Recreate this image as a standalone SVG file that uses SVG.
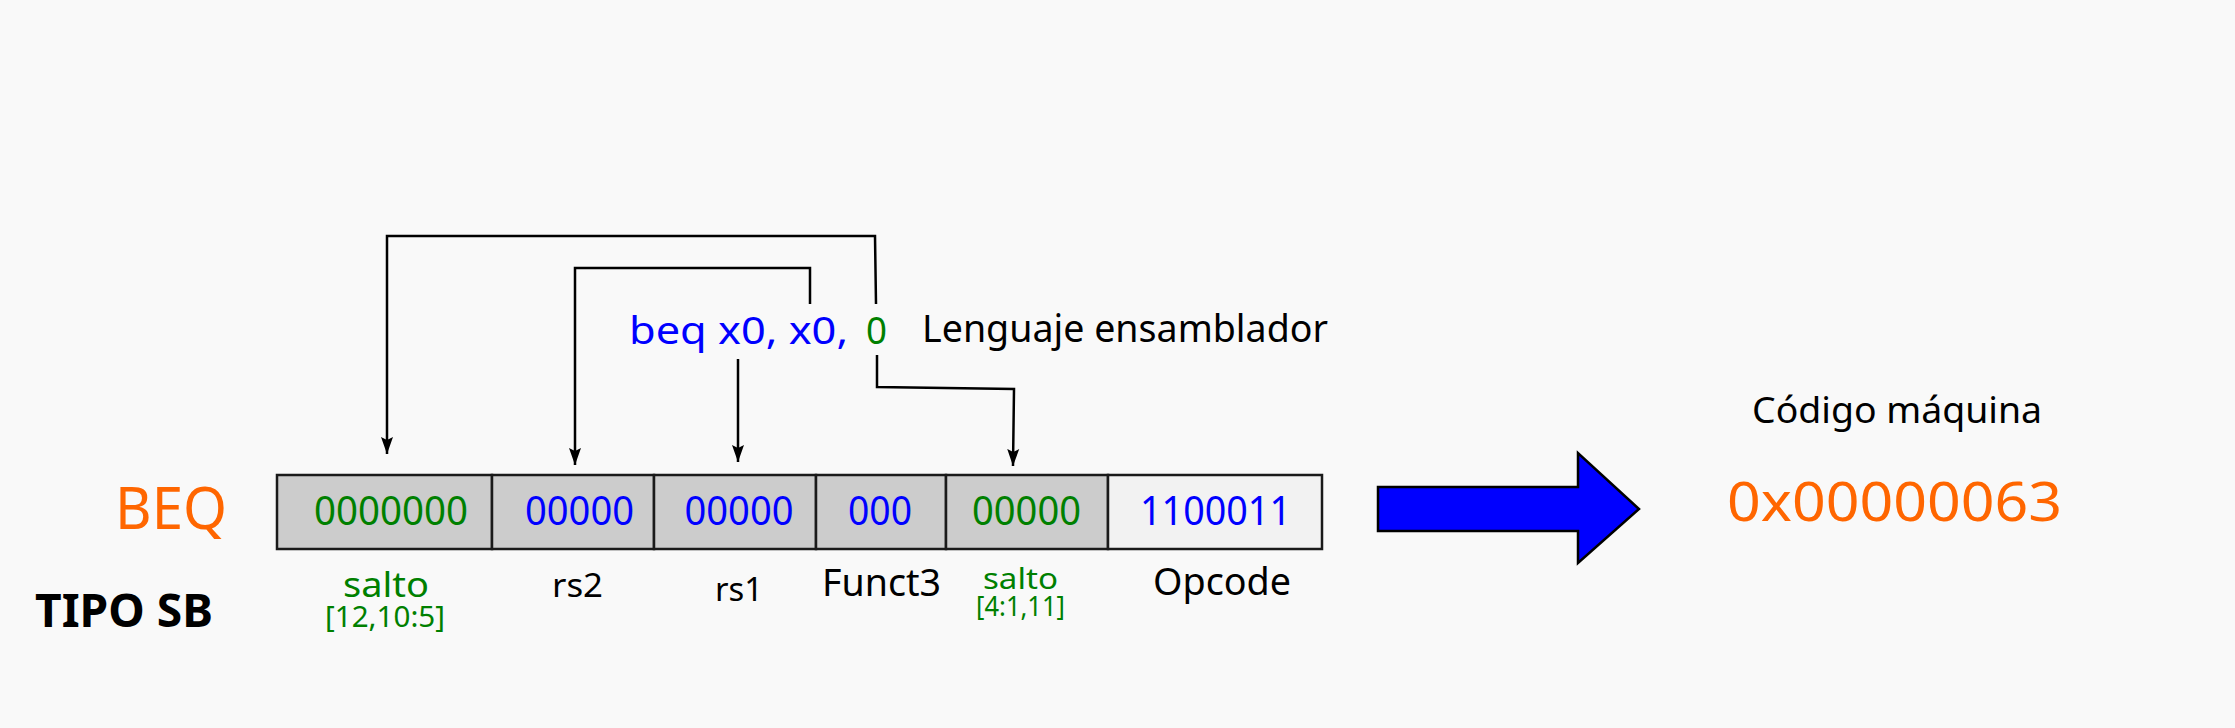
<svg xmlns="http://www.w3.org/2000/svg" width="2235" height="728" viewBox="0 0 2235 728">
<defs>
<style>
text{font-family:"Noto Sans","Open Sans","DejaVu Sans",sans-serif}
.cell{stroke:#1a1a1a;stroke-width:2.5}
.g{fill:#008000}.b{fill:#0000ff}.o{fill:#ff6600}.k{fill:#000}
.conn{fill:none;stroke:#000;stroke-width:2.5}
</style>
<marker id="ah" markerUnits="userSpaceOnUse" markerWidth="18" markerHeight="14" viewBox="0 0 18 14" refX="17" refY="7" orient="auto">
<path d="M0,1 L17,7 L0,13 L3,7 Z" fill="#000"/>
</marker>
</defs>
<rect width="2235" height="728" fill="#f9f9f9"/>

<g id="beq-label"><text x="115" y="529" font-size="58" class="o" textLength="112" lengthAdjust="spacingAndGlyphs">BEQ</text></g>
<g id="tipo-label"><text x="35" y="627" font-size="47" font-weight="bold" class="k" textLength="178" lengthAdjust="spacingAndGlyphs">TIPO SB</text></g>

<g id="field-imm-hi">
<rect class="cell" x="277" y="475" width="215" height="74" fill="#cccccc"/>
<text x="391" y="525" font-size="40" class="g" text-anchor="middle" textLength="154" lengthAdjust="spacingAndGlyphs">0000000</text>
<text x="386" y="597" font-size="34" class="g" text-anchor="middle" textLength="86" lengthAdjust="spacingAndGlyphs">salto</text>
<text x="385" y="627" font-size="29" class="g" text-anchor="middle" textLength="120" lengthAdjust="spacingAndGlyphs">[12,10:5]</text>
</g>
<g id="field-rs2">
<rect class="cell" x="492" y="475" width="162" height="74" fill="#cccccc"/>
<text x="579.5" y="525" font-size="40" class="b" text-anchor="middle" textLength="109" lengthAdjust="spacingAndGlyphs">00000</text>
<text x="577.5" y="597" font-size="33" class="k" text-anchor="middle" textLength="51" lengthAdjust="spacingAndGlyphs">rs2</text>
</g>
<g id="field-rs1">
<rect class="cell" x="654" y="475" width="162" height="74" fill="#cccccc"/>
<text x="739" y="525" font-size="40" class="b" text-anchor="middle" textLength="109" lengthAdjust="spacingAndGlyphs">00000</text>
<text x="739" y="601" font-size="33" class="k" text-anchor="middle" textLength="48" lengthAdjust="spacingAndGlyphs">rs1</text>
</g>
<g id="field-funct3">
<rect class="cell" x="816" y="475" width="130" height="74" fill="#cccccc"/>
<text x="880" y="525" font-size="40" class="b" text-anchor="middle" textLength="64" lengthAdjust="spacingAndGlyphs">000</text>
<text x="881.5" y="596" font-size="38" class="k" text-anchor="middle" textLength="119" lengthAdjust="spacingAndGlyphs">Funct3</text>
</g>
<g id="field-imm-lo">
<rect class="cell" x="946" y="475" width="162" height="74" fill="#cccccc"/>
<text x="1026.5" y="525" font-size="40" class="g" text-anchor="middle" textLength="109" lengthAdjust="spacingAndGlyphs">00000</text>
<text x="1020.5" y="589" font-size="29" class="g" text-anchor="middle" textLength="75" lengthAdjust="spacingAndGlyphs">salto</text>
<text x="1020.5" y="616" font-size="27" class="g" text-anchor="middle" textLength="89" lengthAdjust="spacingAndGlyphs">[4:1,11]</text>
</g>
<g id="field-opcode">
<rect class="cell" x="1108" y="475" width="214" height="74" fill="#f2f2f2"/>
<text x="1215.5" y="525" font-size="40" class="b" text-anchor="middle" textLength="151" lengthAdjust="spacingAndGlyphs">1100011</text>
<text x="1222" y="595" font-size="39" class="k" text-anchor="middle" textLength="138" lengthAdjust="spacingAndGlyphs">Opcode</text>
</g>

<g id="assembly">
<text x="629" y="344" font-size="39" class="b" textLength="219" lengthAdjust="spacingAndGlyphs">beq x0, x0,</text>
<text x="866" y="344" font-size="38" class="g" textLength="21" lengthAdjust="spacingAndGlyphs">0</text>
<text x="922" y="342" font-size="39" class="k" textLength="406" lengthAdjust="spacingAndGlyphs">Lenguaje ensamblador</text>
</g>

<g id="machine-code">
<text x="1752" y="423" font-size="37" class="k" textLength="290" lengthAdjust="spacingAndGlyphs">Código máquina</text>
<text x="1727" y="521" font-size="55" class="o" textLength="335" lengthAdjust="spacingAndGlyphs">0x00000063</text>
</g>

<g id="big-arrow">
<polygon points="1378,487 1578,487 1578,453 1639,509 1578,563 1578,531 1378,531" fill="#0000ff" stroke="#000" stroke-width="2.5"/>
</g>

<g id="connectors">
<path class="conn" d="M876,304 L875,236 L387,236 L387,454" marker-end="url(#ah)"/>
<path class="conn" d="M810,304 L810,268 L575,268 L575,465" marker-end="url(#ah)"/>
<path class="conn" d="M738,359 L738,462" marker-end="url(#ah)"/>
<path class="conn" d="M877,355 L877,387 L1014,389 L1013,466" marker-end="url(#ah)"/>
</g>
</svg>
